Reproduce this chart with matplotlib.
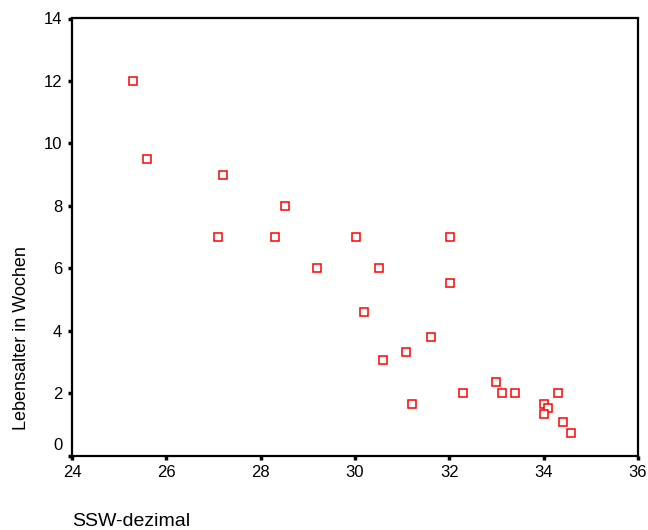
import matplotlib
matplotlib.use("Agg")
import matplotlib.pyplot as plt
import matplotlib.transforms as mtransforms

plt.rcParams['font.family'] = ['Liberation Sans', 'DejaVu Sans']

# SSW-dezimal vs. Lebensalter in Wochen
ssw = [25.3, 25.6, 27.2, 28.52, 27.1, 28.3, 29.19, 30.02, 32.01, 30.51,
       32.01, 30.2, 31.62, 31.09, 30.6, 32.99, 32.3, 33.12, 33.39, 31.21,
       34.31, 34.01, 34.1, 34.01, 34.41, 34.59]
alter = [12.0, 9.5, 9.0, 8.0, 7.0, 7.0, 6.0, 7.0, 7.0, 6.0,
         5.53, 4.6, 3.8, 3.3, 3.05, 2.34, 2.0, 2.0, 2.0, 1.65,
         2.0, 1.66, 1.52, 1.34, 1.06, 0.73]

x_ticks = [24, 26, 28, 30, 32, 34, 36]
y_ticks = [0, 2, 4, 6, 8, 10, 12, 14]

fig = plt.figure(figsize=(6.48, 5.30), dpi=100)
ax = fig.add_axes([72 / 648, 1 - 455.5 / 530, 566 / 648, 437 / 530])

ax.plot(ssw, alter, linestyle='none', marker='s', markersize=5.5,
        markerfacecolor='white', markeredgecolor='#ff0000', markeredgewidth=1.1)

ax.set_xlim(24, 36)
ax.set_ylim(0, 14)
ax.set_xticks(x_ticks)
ax.set_yticks(y_ticks)
ax.tick_params(direction='out', length=3, width=2.5, labelsize=12, pad=4)

for s in ax.spines.values():
    s.set_linewidth(1.6)

# SPSS puts the 0 label slightly above the corner
lbl0 = ax.get_yticklabels()[0]
lbl0.set_transform(lbl0.get_transform() + mtransforms.ScaledTranslation(0, 8 / 72, fig.dpi_scale_trans))

fig.text(22 / 648, 1 - 430 / 530, 'Lebensalter in Wochen', rotation=90,
         fontsize=13, ha='center', va='bottom')
fig.text(72 / 648, 1 - 521 / 530, 'SSW-dezimal', fontsize=14, ha='left', va='center')

fig.savefig('out.png', dpi=100)
